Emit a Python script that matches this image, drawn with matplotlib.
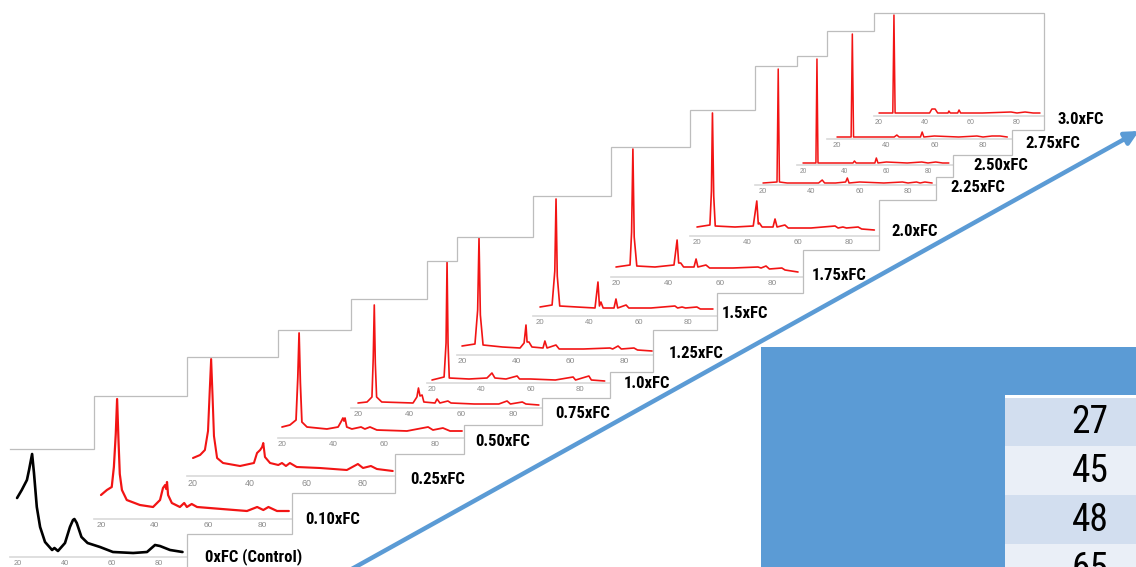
import matplotlib
matplotlib.use("Agg")
import matplotlib.pyplot as plt
from matplotlib import font_manager as fm
from matplotlib.patches import Rectangle, FancyArrowPatch

W, H = 1136, 567

# ------------------------- data -------------------------
labels = ["0xFC (Control)", "0.10xFC", "0.25xFC", "0.50xFC", "0.75xFC", "1.0xFC",
          "1.25xFC", "1.5xFC", "1.75xFC", "2.0xFC", "2.25xFC", "2.50xFC",
          "2.75xFC", "3.0xFC"]
two_theta_ticks = [20, 40, 60, 80]

tt_0 = [19.6, 21.6, 23.8, 24.7, 26.0, 26.8, 28.0, 29.4, 31.5, 34.5, 35.5, 37.0, 40.0, 42.1,
        43.4, 44.0, 45.0, 47.0, 49.6, 54.9, 60.4, 69.0, 74.9, 78.3, 80.4, 84.7, 90.0]
I_0 = [59, 67, 77, 87, 103, 84, 50, 30, 15, 7, 9, 6, 14, 30,
       37, 38, 34, 20, 14, 10, 5, 4, 5, 12, 11, 7, 5]

tt_1 = [20, 22.2, 24.0, 24.8, 25.5, 26.0, 26.5, 27.0, 27.8, 29.6, 34.5, 39.4, 42.0, 43.1,
        43.9, 44.3, 44.6, 45.0, 46.4, 49.4, 51.0, 52.0, 53.8, 55.8, 65.0, 74.4, 78.2,
        80.5, 82.4, 85.6, 90.0]
I_1 = [24, 29, 32, 52, 85, 120, 80, 45, 29, 19, 14, 12, 19, 31,
       34, 30, 37, 24, 16, 12, 16, 12, 15, 12, 10, 8, 12,
       9, 12, 8, 8]

tt_2 = [20, 22.5, 24.2, 25.3, 25.9, 26.4, 26.9, 27.4, 28.5, 30.6, 36.6, 41.5, 42.6, 43.7,
        44.4, 44.8, 45.4, 47.2, 50.1, 51.4, 52.8, 54.2, 56.6, 64.8, 74.3, 78.2, 80.0,
        82.8, 84.9, 90.5]
I_2 = [18, 21, 26, 45, 85, 117, 80, 40, 18, 13, 10, 13, 23, 26,
       29, 33, 19, 13, 11, 13, 10, 13, 9, 8, 6, 12, 8,
       10, 7, 5]

tt_3 = [20, 23.1, 25.5, 26.2, 26.7, 27.2, 27.8, 29.8, 37.6, 42.0, 43.1, 43.9, 44.3, 44.7,
        45.4, 47.4, 51.0, 52.5, 54.5, 57.2, 69.0, 77.3, 79.2, 83.1, 85.9, 90.6]
I_3 = [11, 13, 18, 60, 105, 55, 16, 11, 9, 11, 16, 20, 17, 20,
       11, 9, 11, 9, 11, 8, 7, 11, 8, 10, 7, 7]

tt_4 = [20, 23.5, 25.4, 25.9, 26.3, 26.7, 27.2, 29.2, 41.3, 42.8, 43.4, 44.0, 44.8, 45.5,
        49.8, 50.6, 51.7, 54.8, 56.0, 65.0, 74.5, 77.7, 79.0, 83.6, 85.0, 90.0]
I_4 = [5, 6, 11, 50, 103, 45, 11, 6, 5, 11, 20, 12, 13, 6,
       5, 9, 5, 7, 5, 4, 4, 7, 4, 6, 4, 3]

tt_5 = [20, 24.9, 25.7, 26.1, 26.5, 27.0, 35.0, 42.3, 43.5, 44.3, 45.5, 50.0, 54.5, 55.5,
        60.0, 70.0, 77.2, 78.2, 83.6, 84.6, 90.0]
I_5 = [3, 6, 40, 121, 40, 5, 4, 5, 8, 10, 5, 4, 7, 4,
       4, 3, 6, 3, 7, 3, 2]

tt_6 = [20, 24.8, 25.8, 26.3, 26.8, 27.8, 35.0, 41.5, 43.0, 43.7, 44.1, 44.8, 45.9, 50.0,
        50.7, 51.5, 54.8, 56.0, 65.0, 74.8, 75.8, 77.8, 79.0, 83.7, 85.0, 90.4]
I_6 = [9, 11, 45, 117, 40, 10, 8, 7, 12, 30, 13, 13, 8, 7,
       14, 7, 10, 6, 6, 7, 6, 9, 6, 7, 5, 4]

tt_7 = [20, 24.9, 26.0, 26.5, 27.0, 28.0, 35.0, 42.3, 43.5, 44.1, 44.7, 45.6, 50.0, 50.8,
        51.5, 54.9, 56.0, 65.0, 74.7, 75.8, 77.6, 79.0, 83.6, 85.0, 90.1]
I_7 = [9, 11, 45, 117, 40, 10, 9, 8, 34, 10, 14, 8, 8, 17,
       8, 11, 8, 8, 10, 8, 9, 8, 9, 7, 7]

tt_8 = [20, 25.4, 26.0, 26.5, 27.0, 28.0, 35.0, 42.3, 43.5, 44.1, 44.9, 46.0, 50.0, 50.8,
        51.5, 54.6, 56.0, 65.0, 74.6, 75.8, 77.7, 79.0, 83.8, 85.0, 90.0]
I_8 = [10, 12, 45, 128, 40, 11, 10, 12, 37, 14, 14, 10, 10, 18,
       10, 12, 9, 9, 10, 9, 11, 8, 9, 7, 5]

tt_9 = [20, 25.1, 25.7, 26.1, 26.6, 27.2, 35.0, 42.2, 43.6, 44.2, 44.6, 45.7, 50.0, 50.8,
        51.6, 54.7, 56.0, 65.0, 74.5, 75.7, 77.6, 79.0, 83.6, 85.0, 90.0]
I_9 = [9, 11, 45, 123, 40, 10, 9, 10, 35, 12, 13, 9, 9, 17,
       9, 11, 8, 8, 10, 8, 9, 8, 9, 7, 6]

tt_10 = [20, 25.8, 26.3, 26.8, 30.0, 43.0, 44.5, 45.5, 50.0, 54.2, 54.9, 55.6, 60.0, 70.0,
         77.7, 80.0, 83.5, 85.0, 87.0, 90.0]
I_10 = [2, 3, 116, 3, 2, 2, 5, 2, 2, 3, 7, 2, 3, 2,
        3, 2, 3, 2, 3, 2]

tt_11 = [20, 26.2, 26.7, 27.2, 35.0, 44.0, 44.7, 45.5, 50.0, 54.5, 55.2, 56.0, 60.0, 70.0,
         77.0, 80.0, 83.7, 87.0, 90.0]
I_11 = [2, 2, 106, 2, 2, 2, 4, 2, 2, 2, 7, 2, 3, 2,
        3, 2, 3, 2, 2]

tt_12 = [20, 25.8, 26.3, 26.8, 35.0, 43.5, 44.6, 45.5, 50.0, 54.3, 55.0, 55.7, 60.0, 70.0,
         77.5, 80.0, 83.7, 87.0, 90.0]
I_12 = [2, 2, 105, 2, 2, 2, 4, 2, 2, 2, 7, 2, 3, 2,
        3, 2, 3, 3, 2]

tt_13 = [20, 26.0, 26.5, 27.0, 35.0, 42.0, 43.0, 44.4, 45.5, 50.0, 50.4, 51.0, 54.2, 54.8,
         55.5, 65.0, 77.4, 80.0, 83.5, 87.0, 90.0]
I_13 = [3, 3, 101, 3, 3, 3, 7, 7, 3, 3, 5, 3, 3, 6,
        3, 3, 4, 3, 4, 3, 3]

table_values = ["27", "45", "48", "65"]

# ------------------------- layout (pixels) -------------------------
box_L = [10, 94, 187, 278, 351, 427, 457, 533, 611, 690, 755, 797, 827, 874]
box_T = [449, 396, 357, 330, 299, 261, 237, 196, 147, 110, 66, 56, 31, 13]
box_R = [187, 292, 395, 464, 542, 610, 653, 717, 803, 879, 936, 953, 1012, 1044]
box_B = [600, 534, 493, 454, 425, 398, 372, 330, 293, 250, 200, 177, 155, 130]
axis_y = [557, 519, 476, 438, 408, 383, 355, 316, 277, 236, 185, 165, 139, 116]
tick20_x = [18, 101, 193, 282, 358, 432, 462, 540, 616, 697, 763, 803, 837, 879]
tick80_x = [159, 262, 363, 435, 513, 580, 624, 688, 772, 849, 908, 928, 983, 1017]
label_x = [205, 305, 410, 475, 555, 624, 669, 722, 812, 891, 950, 973, 1025, 1057]
label_y = [557, 519, 480, 441, 413, 384, 354, 314, 276, 231, 187, 166, 144, 119]
line_w = [1.9, 1.6, 1.5, 1.3, 1.2, 1.2, 1.2, 1.2, 1.2, 1.2, 1.1, 1.1, 1.1, 1.1]

series = [(tt_0, I_0), (tt_1, I_1), (tt_2, I_2), (tt_3, I_3), (tt_4, I_4), (tt_5, I_5),
          (tt_6, I_6), (tt_7, I_7), (tt_8, I_8), (tt_9, I_9), (tt_10, I_10),
          (tt_11, I_11), (tt_12, I_12), (tt_13, I_13)]

# ------------------------- fonts -------------------------
names = {f.name for f in fm.fontManager.ttflist}
if "Liberation Sans Narrow" in names:
    cond_family, label_size, table_size = "Liberation Sans Narrow", 12.5, 28
elif "Roboto Condensed" in names:
    cond_family, label_size, table_size = "Roboto Condensed", 12, 27
else:
    cond_family, label_size, table_size = "Liberation Sans", 10.5, 23
plt.rcParams["font.family"] = ["Liberation Sans", "DejaVu Sans"]

fig = plt.figure(figsize=(W / 100, H / 100), dpi=100)
fig.patch.set_facecolor("white")

# ------------------------- panels -------------------------
for k, (tt, inten) in enumerate(series):
    L, T, R, A = box_L[k], box_T[k], box_R[k], axis_y[k]
    ax = fig.add_axes([L / W, (H - A) / H, (R - L) / W, (A - T) / H], zorder=2 + k)
    ax.set_facecolor("none")
    s = (tick80_x[k] - tick20_x[k]) / 60.0
    ax.set_xlim(20 - (tick20_x[k] - L) / s, 20 + (R - tick20_x[k]) / s)
    ax.set_ylim(0, A - T)
    color = "black" if k == 0 else "#f21414"
    ax.plot(tt, inten, color=color, lw=line_w[k], clip_on=False,
            solid_joinstyle="round", solid_capstyle="round")
    for sp in ["top", "left", "right"]:
        ax.spines[sp].set_visible(False)
    ax.spines["bottom"].set_color("#d9d9d9")
    ax.spines["bottom"].set_linewidth(1.2)
    ax.set_xticks(two_theta_ticks)
    ax.set_xticklabels([str(t) for t in two_theta_ticks])
    ax.set_yticks([])
    ax.tick_params(axis="x", length=0, pad=2.5, labelsize=2.25 * s,
                   labelcolor="#8a8a8a")

# ------------------------- overlay: outline, labels, arrow, table -------------------------
ov = fig.add_axes([0, 0, 1, 1], zorder=40)
ov.set_xlim(0, W)
ov.set_ylim(H, 0)
ov.axis("off")
ov.set_facecolor("none")

n = len(box_L)
xs = [box_L[0]]
ys = [box_T[0]]
for k in range(n - 1):
    xs += [box_L[k + 1], box_L[k + 1]]
    ys += [box_T[k], box_T[k + 1]]
xs += [box_R[-1], box_R[-1]]
ys += [box_T[-1], box_B[-1]]
for k in range(n - 2, -1, -1):
    xs += [box_R[k], box_R[k]]
    ys += [box_B[k + 1], box_B[k]]
ov.plot(xs, ys, color="#bdbdbd", lw=0.9, solid_joinstyle="miter")

for k, lab in enumerate(labels):
    ov.text(label_x[k], label_y[k], lab, ha="left", va="center",
            fontsize=label_size, fontweight="bold", family=[cond_family, "DejaVu Sans"],
            color="black")

# blue panel with table
ov.add_patch(Rectangle((761, 347), 420, 260, facecolor="#5b9bd5", edgecolor="none", zorder=1))
row_h = 49
tab_x, tab_y = 1005, 397
for i, v in enumerate(table_values):
    fc = "#d2deef" if i % 2 == 0 else "#eaeff7"
    ov.add_patch(Rectangle((tab_x, tab_y + i * row_h), 200, row_h, facecolor=fc,
                           edgecolor="none", zorder=2))
    ov.text(1090, tab_y + i * row_h + row_h / 2 + 1, v, ha="center", va="center",
            fontsize=table_size, family=[cond_family, "DejaVu Sans"], color="black", zorder=3)
ov.add_patch(Rectangle((tab_x, tab_y - 2.5), 200, 3, facecolor="white", edgecolor="none", zorder=3))

arrow = FancyArrowPatch((350, 570), (1139, 131), arrowstyle="-|>", mutation_scale=20,
                        lw=3.2, color="#5b9bd5", shrinkA=0, shrinkB=0, zorder=5)
ov.add_patch(arrow)

fig.savefig("out.png", dpi=100, facecolor="white")
